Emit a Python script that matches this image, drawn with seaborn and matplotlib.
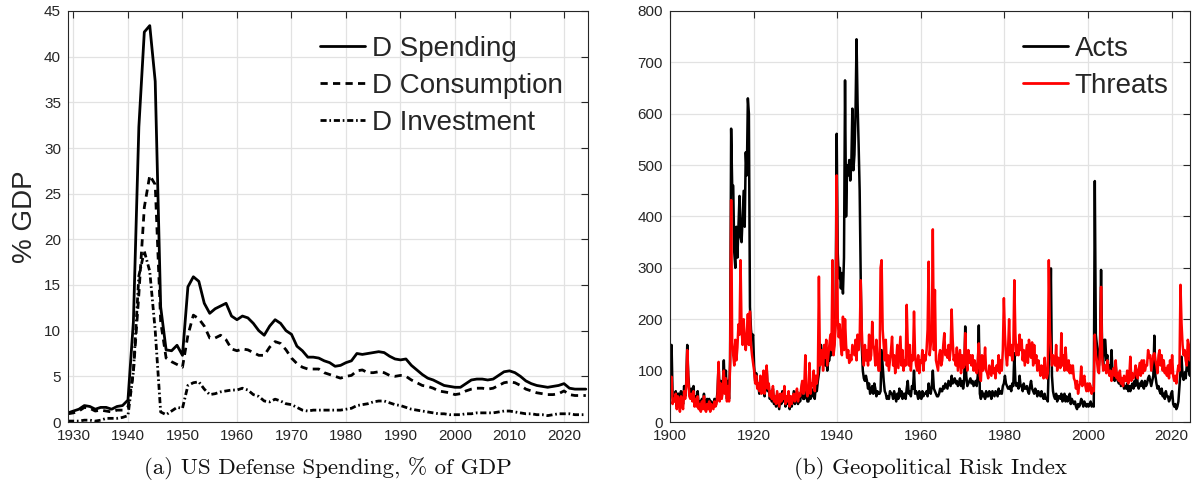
import numpy as np
import pandas as pd
import matplotlib
matplotlib.use("Agg")
import matplotlib.pyplot as plt
import seaborn as sns

# ---------------- Panel (a): US defense spending, % of GDP (annual) ----------------
def_years = list(range(1929, 2025))
d_spending = [
    1.0, 1.2, 1.4, 1.8, 1.7, 1.4, 1.6, 1.6, 1.4, 1.7,          # 1929-1938
    1.8, 2.4, 11.0, 32.3, 42.7, 43.4, 37.3, 12.6, 7.9, 7.8,    # 1939-1948
    8.4, 7.3, 14.8, 15.9, 15.4, 13.0, 11.9, 12.4, 12.7, 13.0,  # 1949-1958
    11.6, 11.2, 11.6, 11.4, 10.8, 10.0, 9.5, 10.5, 11.2, 10.8, # 1959-1968
    10.0, 9.6, 8.3, 7.8, 7.1, 7.1, 7.0, 6.7, 6.5, 6.1,         # 1969-1978
    6.2, 6.5, 6.7, 7.5, 7.4, 7.5, 7.6, 7.7, 7.6, 7.2,          # 1979-1988
    6.9, 6.8, 6.9, 6.2, 5.7, 5.2, 4.8, 4.6, 4.3, 4.0,          # 1989-1998
    3.9, 3.8, 3.8, 4.2, 4.6, 4.7, 4.7, 4.6, 4.7, 5.1,          # 1999-2008
    5.5, 5.6, 5.4, 5.0, 4.5, 4.2, 4.0, 3.9, 3.8, 3.9,          # 2009-2018
    4.0, 4.2, 3.7, 3.6, 3.6, 3.6,                              # 2019-2024
]
d_consumption = [
    0.9, 1.0, 1.2, 1.6, 1.5, 1.2, 1.3, 1.2, 1.1, 1.3,
    1.3, 1.6, 5.5, 14.0, 23.5, 27.0, 26.0, 11.0, 7.0, 6.6,
    6.3, 6.0, 9.5, 11.7, 11.3, 10.5, 9.2, 9.2, 9.5, 9.0,
    8.0, 7.8, 8.0, 7.9, 7.6, 7.3, 7.3, 8.2, 8.8, 8.6,
    7.9, 7.0, 6.4, 6.0, 5.8, 5.8, 5.8, 5.4, 5.2, 5.0,
    4.8, 5.0, 5.1, 5.6, 5.7, 5.4, 5.4, 5.5, 5.4, 5.1,
    5.0, 5.1, 5.0, 4.6, 4.3, 4.0, 3.9, 3.7, 3.4, 3.3,
    3.2, 3.0, 3.1, 3.4, 3.6, 3.7, 3.7, 3.6, 3.7, 4.0,
    4.3, 4.4, 4.3, 4.0, 3.6, 3.4, 3.2, 3.1, 3.0, 3.0,
    3.1, 3.4, 3.0, 2.9, 2.9, 2.9,
]
d_investment = [
    0.1, 0.1, 0.1, 0.2, 0.2, 0.1, 0.2, 0.4, 0.4, 0.4,
    0.5, 0.7, 5.5, 16.0, 18.7, 16.5, 10.0, 1.1, 0.8, 1.2,
    1.6, 1.5, 4.0, 4.3, 4.4, 3.6, 3.0, 3.1, 3.3, 3.4,
    3.5, 3.5, 3.7, 3.5, 3.0, 2.8, 2.3, 2.2, 2.5, 2.3,
    2.0, 1.9, 1.6, 1.3, 1.2, 1.3, 1.3, 1.3, 1.3, 1.3,
    1.3, 1.4, 1.5, 1.8, 1.9, 2.0, 2.2, 2.3, 2.3, 2.1,
    1.9, 1.8, 1.6, 1.4, 1.3, 1.2, 1.1, 1.0, 0.9, 0.9,
    0.8, 0.8, 0.8, 0.9, 0.9, 1.0, 1.0, 1.0, 1.0, 1.1,
    1.2, 1.2, 1.1, 1.0, 0.9, 0.9, 0.8, 0.8, 0.7, 0.8,
    0.9, 0.9, 0.9, 0.8, 0.8, 0.8,
]

# ---------------- Panel (b): Geopolitical Risk Index (quarterly, 1900-2024) ----------------
gpr_acts = [
    110, 150, 50, 40,   45, 60, 30, 55,   55, 30, 60, 45,   35, 70, 50, 75,      # 1900-1903
    150, 90, 60, 55,    65, 45, 70, 40,   50, 35, 60, 30,   40, 25, 45, 30,      # 1904-1907
    55, 30, 25, 45,     30, 45, 25, 40,   35, 30, 45, 35,   40, 60, 115, 45,     # 1908-1911
    80, 50, 70, 120,    60, 100, 45, 80,  45, 120, 571, 460, 460, 330, 300, 380, # 1912-1915
    320, 380, 440, 360, 350, 400, 450, 380, 525, 480, 630, 600, 224, 180, 160, 170, # 1916-1919
    110, 80, 95, 70,    70, 55, 85, 60,   65, 90, 50, 75,   105, 60, 70, 45,     # 1920-1923
    55, 40, 65, 35,     45, 30, 55, 40,   25, 50, 35, 60,   40, 55, 30, 45,      # 1924-1927
    35, 50, 25, 45,     30, 45, 60, 35,   45, 60, 35, 50,   40, 55, 75, 45,      # 1928-1931
    45, 50, 60, 40,     40, 55, 45, 60,   50, 65, 45, 70,   60, 80, 95, 120,     # 1932-1935
    150, 130, 110, 125, 110, 140, 100, 120, 120, 150, 130, 180, 140, 160, 220, 561, # 1936-1939
    330, 280, 300, 260, 290, 250, 320, 665, 400, 500, 480, 510, 470, 500, 610, 490, # 1940-1943
    520, 600, 745, 620, 540, 450, 280, 150, 100, 85, 80, 90, 80, 65, 75, 55,     # 1944-1947
    60, 70, 55, 75,     65, 50, 60, 55,   55, 60, 140, 110, 80, 60, 55, 45,      # 1948-1951
    50, 45, 60, 55,     55, 45, 60, 50,   40, 55, 45, 65,   50, 60, 45, 55,      # 1952-1955
    55, 45, 65, 80,     55, 60, 50, 70,   65, 100, 55, 60,  55, 45, 60, 50,      # 1956-1959
    45, 60, 50, 55,     55, 60, 50, 75,   60, 55, 70, 100,  65, 60, 55, 50,      # 1960-1963
    50, 55, 65, 60,     60, 70, 65, 75,   70, 65, 80, 75,   70, 90, 75, 80,      # 1964-1967
    85, 75, 80, 70,     75, 85, 70, 80,   65, 80, 186, 90,  70, 75, 80, 85,      # 1968-1971
    75, 80, 70, 75,     80, 70, 90, 188,  55, 45, 60, 50,   55, 45, 60, 50,      # 1972-1975
    50, 60, 55, 45,     60, 55, 50, 60,   55, 50, 65, 55,   60, 55, 70, 75,      # 1976-1979
    90, 75, 70, 65,     65, 70, 60, 75,   70, 134, 80, 70,  75, 65, 90, 70,      # 1980-1983
    70, 60, 75, 65,     65, 70, 60, 55,   70, 80, 65, 60,   55, 65, 60, 50,      # 1984-1987
    60, 55, 50, 60,     50, 45, 55, 45,   45, 40, 120, 150, 299, 90, 60, 50,     # 1988-1991
    45, 55, 40, 50,     50, 45, 55, 40,   45, 55, 40, 50,   40, 45, 55, 35,      # 1992-1995
    45, 40, 35, 40,     30, 25, 35, 30,   35, 45, 40, 30,   40, 35, 30, 35,      # 1996-1999
    30, 35, 40, 30,     35, 30, 469, 170, 150, 130, 110, 150, 296, 140, 110, 160, # 2000-2003
    160, 120, 130, 100, 110, 90, 140, 95, 100, 80, 110, 85, 80, 75, 90, 70,      # 2004-2007
    75, 80, 65, 70,     65, 75, 60, 70,   60, 70, 75, 65,   80, 70, 100, 75,     # 2008-2011
    65, 75, 70, 80,     70, 65, 80, 70,   75, 85, 90, 80,   70, 80, 90, 168,     # 2012-2015
    90, 75, 65, 70,     60, 55, 65, 50,   55, 45, 60, 50,   50, 40, 45, 55,      # 2016-2019
    60, 35, 30, 35,     25, 30, 40, 70,   100, 127, 90, 82, 95, 85, 110, 130,    # 2020-2023
    100, 90, 120, 80,                                                            # 2024
]
gpr_threats = [
    70, 88, 35, 45,     40, 55, 25, 50,   40, 20, 50, 35,   25, 60, 45, 70,      # 1900-1903
    140, 85, 50, 45,    55, 40, 60, 30,   45, 30, 50, 25,   35, 20, 40, 25,      # 1904-1907
    50, 25, 20, 35,     25, 40, 20, 35,   30, 25, 40, 30,   35, 55, 117, 40,     # 1908-1911
    75, 45, 60, 100,    55, 85, 40, 70,   40, 110, 432, 155, 130, 110, 160, 120, # 1912-1915
    145, 190, 170, 315, 180, 150, 200, 160, 140, 170, 210, 150, 215, 150, 130, 115, # 1916-1919
    100, 75, 90, 65,    75, 60, 90, 55,   70, 100, 55, 80,  110, 65, 75, 50,     # 1920-1923
    60, 45, 70, 40,     50, 35, 60, 45,   30, 55, 40, 55,   45, 70, 35, 50,      # 1924-1927
    40, 60, 30, 50,     35, 50, 55, 40,   50, 65, 40, 55,   50, 65, 80, 55,      # 1928-1931
    70, 130, 60, 50,    60, 115, 55, 75,  70, 100, 60, 90,  75, 95, 283, 110,    # 1932-1935
    120, 140, 100, 150, 125, 160, 110, 130, 150, 170, 140, 315, 130, 150, 190, 480, # 1936-1939
    200, 165, 190, 150, 130, 205, 140, 200, 150, 125, 140, 115, 130, 120, 150, 140, # 1940-1943
    130, 160, 120, 170, 140, 160, 276, 180, 130, 110, 150, 120, 140, 110, 170, 120, # 1944-1947
    130, 195, 150, 140, 110, 160, 125, 100, 100, 300, 315, 180, 150, 120, 160, 110, # 1948-1951
    130, 100, 120, 140, 166, 110, 130, 95, 120, 150, 105, 135, 166, 110, 140, 100, # 1952-1955
    120, 110, 228, 150, 110, 150, 100, 130, 120, 215, 130, 110, 100, 130, 95, 120, # 1956-1959
    115, 140, 100, 130, 120, 140, 180, 312, 130, 150, 170, 375, 140, 257, 120, 110, # 1960-1963
    100, 130, 140, 110, 120, 150, 173, 130, 140, 125, 150, 120, 140, 219, 160, 120, # 1964-1967
    130, 110, 145, 100, 120, 140, 95, 130, 105, 110, 173, 120, 100, 140, 115, 130, # 1968-1971
    110, 130, 100, 120, 100, 95, 120, 153, 90, 80, 130, 100, 110, 145, 100, 95,   # 1972-1975
    85, 110, 100, 90,   120, 95, 105, 85, 110, 100, 130, 95, 120, 100, 140, 241,  # 1976-1979
    170, 130, 110, 140, 200, 130, 150, 120, 140, 276, 170, 130, 150, 130, 170, 140, # 1980-1983
    160, 120, 140, 110, 130, 150, 115, 160, 140, 125, 155, 110, 150, 115, 130, 100, # 1984-1987
    120, 105, 90, 110,  100, 85, 125, 95, 85, 95, 315, 180, 140, 110, 130, 120,   # 1988-1991
    110, 150, 100, 125, 120, 105, 173, 110, 130, 100, 145, 115, 100, 120, 95, 110, # 1992-1995
    95, 110, 85, 80,    65, 80, 55, 70,   75, 108, 70, 85,  90, 70, 60, 75,      # 1996-1999
    60, 75, 70, 55,     65, 60, 170, 130, 120, 100, 95, 140, 263, 130, 100, 110, # 2000-2003
    110, 95, 120, 100,  90, 100, 80, 95,  105, 90, 120, 85, 95, 80, 100, 75,     # 2004-2007
    85, 70, 90, 80,     80, 100, 75, 90,  127, 80, 95, 85,  90, 110, 100, 85,    # 2008-2011
    100, 115, 90, 120,  95, 120, 100, 110, 110, 140, 125, 130, 100, 115, 130, 134, # 2012-2015
    120, 110, 95, 130,  140, 110, 130, 100, 120, 95, 105, 90, 110, 85, 120, 95,  # 2016-2019
    130, 90, 80, 90,    75, 95, 110, 100, 267, 192, 150, 130, 140, 120, 110, 160, # 2020-2023
    150, 120, 135, 110,                                                          # 2024
]
gpr_time = 1900 + (np.arange(len(gpr_acts)) + 0.5) / 4.0   # quarter mid-points

left_xticks = list(range(1930, 2021, 10))
left_yticks = list(range(0, 46, 5))
right_xticks = list(range(1900, 2021, 20))
right_yticks = list(range(0, 801, 100))

# ---------------- Style ----------------
sns.set_theme(style="white")
plt.rcParams["font.family"] = ["Liberation Sans", "DejaVu Sans"]
plt.rcParams["axes.edgecolor"] = "#262626"
plt.rcParams["axes.linewidth"] = 0.8

W, H = 1193, 493
fig = plt.figure(figsize=(W / 100, H / 100), dpi=100)
axL = fig.add_axes([68 / W, 1 - 422 / H, 520 / W, 411 / H])
axR = fig.add_axes([670 / W, 1 - 422 / H, 520 / W, 411 / H])

df_def = pd.DataFrame({"year": def_years, "spend": d_spending,
                       "cons": d_consumption, "inv": d_investment})
df_gpr = pd.DataFrame({"t": gpr_time, "acts": gpr_acts, "threats": gpr_threats})

lwL = 2.0
sns.lineplot(data=df_def, x="year", y="spend", ax=axL, color="black", lw=lwL,
             label="D Spending", errorbar=None, sort=False)
sns.lineplot(data=df_def, x="year", y="cons", ax=axL, color="black", lw=lwL,
             linestyle=(0, (2.6, 1.9)), label="D Consumption", errorbar=None, sort=False)
sns.lineplot(data=df_def, x="year", y="inv", ax=axL, color="black", lw=lwL,
             linestyle=(0, (2.2, 1.0, 0.6, 1.0)), label="D Investment", errorbar=None, sort=False)

lwR = 1.8
sns.lineplot(data=df_gpr, x="t", y="acts", ax=axR, color="black", lw=lwR,
             label="Acts", errorbar=None, sort=False)
sns.lineplot(data=df_gpr, x="t", y="threats", ax=axR, color="#ff0000", lw=lwR,
             label="Threats", errorbar=None, sort=False)

for ax in (axL, axR):
    ax.grid(True, color="#e2e2e2", lw=0.9)
    ax.set_axisbelow(True)
    ax.tick_params(direction="in", top=True, right=True, length=5, width=0.8,
                   colors="#262626", labelsize=11, pad=5)
    for sp in ax.spines.values():
        sp.set_visible(True)
        sp.set_color("#262626")
    ax.set_xlabel("")

axL.set_xlim(1929, 2024.4)
axL.set_ylim(0, 45)
axL.set_xticks(left_xticks)
axL.set_yticks(left_yticks)
axL.set_ylabel("% GDP", fontsize=20, labelpad=4)

axR.set_xlim(1900, 2024.4)
axR.set_ylim(0, 800)
axR.set_xticks(right_xticks)
axR.set_yticks(right_yticks)
axR.set_ylabel("")

leg_kw = dict(loc="upper left", frameon=False, fontsize=20, handlelength=1.6,
              handletextpad=0.25, labelspacing=0.4, borderpad=0, borderaxespad=0)
lgL = axL.legend(bbox_to_anchor=(0.485, 0.94), **leg_kw)
lgR = axR.legend(bbox_to_anchor=(0.679, 0.94), **leg_kw)
for lg in (lgL, lgR):
    for line in lg.get_lines():
        line.set_linewidth(2.0)

fig.text((68 + 260) / W, 1 - 468 / H, "(a) US Defense Spending, % of GDP",
         family="cmr10", fontsize=16.5, ha="center", va="center", color="#111111")
fig.text((670 + 260) / W, 1 - 468 / H, "(b) Geopolitical Risk Index",
         family="cmr10", fontsize=16.5, ha="center", va="center", color="#111111")

fig.savefig("out.png", dpi=100)
